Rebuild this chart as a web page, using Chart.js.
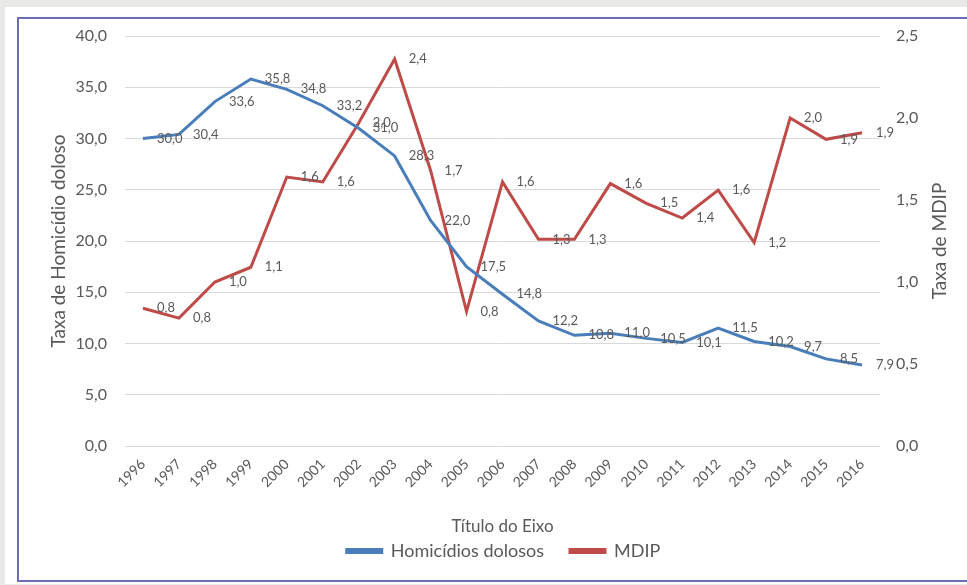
<!DOCTYPE html>
<html>
<head>
<meta charset="utf-8">
<script src="https://cdn.jsdelivr.net/npm/chart.js@4.4.1/dist/chart.umd.min.js"></script>
<style>
  html, body { margin: 0; padding: 0; width: 967px; height: 585px; overflow: hidden; background: #e9e9e7; }
  #sheet { position: absolute; left: 5px; top: 7px; width: 970px; height: 577px; background: #ffffff; }
  #frame { position: absolute; left: 17px; top: 17px; width: 960px; height: 565px; border: 2px solid #6e6eb4; box-sizing: border-box; }
  #wrap { position: absolute; left: 0; top: 0; width: 967px; height: 585px; }
</style>
</head>
<body>
<div id="sheet"></div>
<div id="frame"></div>
<div id="wrap"><canvas id="chart" width="967" height="585"></canvas></div>
<script>
// Anos
const years = ['1996','1997','1998','1999','2000','2001','2002','2003','2004','2005','2006',
               '2007','2008','2009','2010','2011','2012','2013','2014','2015','2016'];
// Taxa de homicídios dolosos
const homicidios = [30.0, 30.4, 33.6, 35.8, 34.8, 33.2, 31.0, 28.3, 22.0, 17.5, 14.8,
                    12.2, 10.8, 11.0, 10.5, 10.1, 11.5, 10.2, 9.7, 8.5, 7.9];
// Taxa de MDIP
const mdip = [0.84, 0.78, 1.00, 1.09, 1.64, 1.61, 1.97, 2.36, 1.68, 0.82, 1.61,
              1.26, 1.26, 1.60, 1.48, 1.39, 1.56, 1.24, 2.00, 1.87, 1.91];

const FONT = 'Lato, "Liberation Sans", sans-serif';
const TEXT = '#595959';
const BLUE = '#4a7ebb';
const RED = '#be4b48';

const fmt = v => Number(v).toFixed(1).replace('.', ',');

// Rótulos de valor à direita de cada ponto
const valueLabels = {
  id: 'valueLabels',
  afterDatasetsDraw(chart) {
    const ctx = chart.ctx;
    ctx.save();
    ctx.font = '13px ' + FONT;
    ctx.fillStyle = TEXT;
    ctx.textAlign = 'left';
    ctx.textBaseline = 'middle';
    chart.data.datasets.forEach((ds, i) => {
      const meta = chart.getDatasetMeta(i);
      meta.data.forEach((pt, j) => {
        ctx.fillText(fmt(ds.data[j]), pt.x + 14, pt.y);
      });
    });
    ctx.restore();
  }
};

// Títulos do eixo X e do eixo secundário (este lido de baixo para cima)
const axisTitles = {
  id: 'axisTitles',
  afterDraw(chart) {
    const ctx = chart.ctx;
    const area = chart.chartArea;
    ctx.save();
    ctx.fillStyle = TEXT;
    ctx.textAlign = 'center';
    ctx.textBaseline = 'middle';
    ctx.font = '17px ' + FONT;
    ctx.fillText('Título do Eixo', (area.left + area.right) / 2, 527);
    ctx.font = '19px ' + FONT;
    ctx.translate(940, (area.top + area.bottom) / 2);
    ctx.rotate(-Math.PI / 2);
    ctx.fillText('Taxa de MDIP', 0, 0);
    ctx.restore();
  }
};

new Chart(document.getElementById('chart'), {
  type: 'line',
  data: {
    labels: years,
    datasets: [
      { label: 'Homicídios dolosos', data: homicidios, yAxisID: 'y',
        borderColor: BLUE, backgroundColor: BLUE, borderWidth: 3, pointRadius: 0, tension: 0 },
      { label: 'MDIP', data: mdip, yAxisID: 'y1',
        borderColor: RED, backgroundColor: RED, borderWidth: 3, pointRadius: 0, tension: 0 }
    ]
  },
  options: {
    responsive: false,
    animation: false,
    devicePixelRatio: 1,
    layout: { padding: { left: 40, right: 0, top: 36, bottom: 15 } },
    plugins: {
      legend: {
        position: 'bottom',
        labels: { boxWidth: 35, boxHeight: 3, padding: 26, color: TEXT, font: { family: FONT, size: 18 } }
      },
      tooltip: { enabled: false }
    },
    scales: {
      x: {
        type: 'category',
        offset: true,
        grid: { display: false, drawTicks: false },
        border: { display: false },
        ticks: { color: TEXT, font: { family: FONT, size: 14 }, minRotation: 45, maxRotation: 45, autoSkip: false, padding: 10 },
        afterFit(s) { s.height = 70; }
      },
      y: {
        position: 'left',
        min: 0, max: 40,
        grid: { color: '#d9d9d9', drawTicks: false },
        border: { display: false },
        ticks: { stepSize: 5, callback: v => fmt(v), padding: 18, color: TEXT, font: { family: FONT, size: 16 } },
        title: { display: true, text: 'Taxa de Homicídio doloso', color: TEXT, font: { family: FONT, size: 19 }, padding: { top: 7, bottom: 0 } },
        afterFit(s) { s.width = 85; }
      },
      y1: {
        position: 'right',
        min: 0, max: 2.5,
        grid: { display: false, drawTicks: false },
        border: { display: false },
        ticks: { stepSize: 0.5, callback: v => fmt(v), padding: 16, color: TEXT, font: { family: FONT, size: 16 } },
        afterFit(s) { s.width = 87; }
      }
    }
  },
  plugins: [valueLabels, axisTitles]
});
</script>
</body>
</html>
